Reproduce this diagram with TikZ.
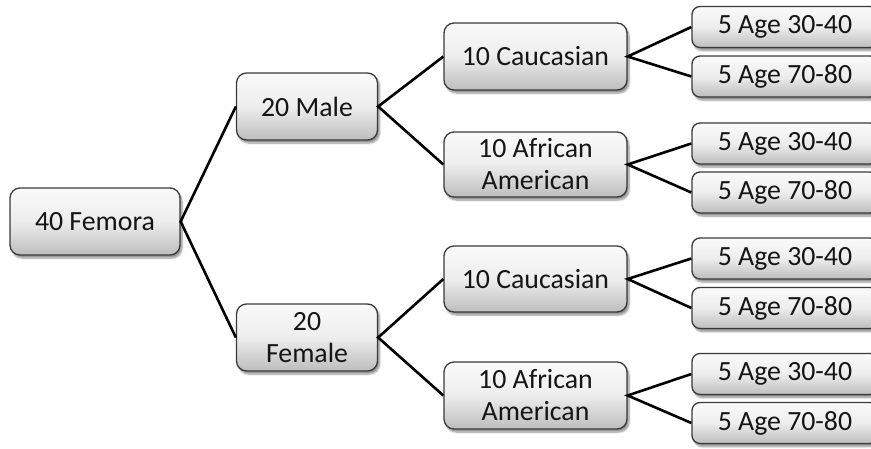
\documentclass[tikz,border=0pt]{standalone}
\usepackage{fontspec}
\setmainfont{Carlito}
\usetikzlibrary{shadows.blur}
\definecolor{boxline}{HTML}{3A3A3A}
\definecolor{boxtop}{HTML}{FAFAFA}
\definecolor{boxbot}{HTML}{BDBDBD}
\definecolor{txt}{HTML}{151515}
\tikzset{
  box/.style={draw=boxline, line width=1.3pt, rounded corners=10pt,
    top color=boxtop, bottom color=boxbot, middle color=black!7,
    text=txt, align=center, inner sep=0pt,
    font=\fontsize{27.8}{32}\selectfont,
    blur shadow={shadow xshift=2pt, shadow yshift=-3pt, shadow blur steps=6, shadow opacity=45}},
  leafbox/.style={box, rounded corners=8pt, minimum width=186pt, minimum height=41pt},
  link/.style={line width=2.6pt, black}
}
\begin{document}
\begin{tikzpicture}[x=1pt,y=-1pt]
\useasboundingbox (0,0) rectangle (871,448);
\clip (0,0) rectangle (871,448);
\node[box, minimum width=170pt, minimum height=67pt] (root) at (95,221.5) {40 Femora};
\node[box, minimum width=141pt, minimum height=67pt] (male) at (307,106.5) {20 Male};
\node[box, minimum width=141pt, minimum height=67pt] (female) at (307,337.5) {20\\Female};
\node[box, minimum width=183pt, minimum height=67pt] (cau1) at (535.5,56.5) {10 Caucasian};
\node[box, minimum width=183pt, minimum height=65pt] (aa1) at (535.5,164.5) {10 African\\American};
\node[box, minimum width=183pt, minimum height=66pt] (cau2) at (535.5,279) {10 Caucasian};
\node[box, minimum width=183pt, minimum height=67pt] (aa2) at (535.5,395.5) {10 African\\American};
\node[leafbox] (l1) at (785,27) {5 Age 30-40};
\node[leafbox] (l2) at (785,76.5) {5 Age 70-80};
\node[leafbox] (l3) at (785,143.5) {5 Age 30-40};
\node[leafbox] (l4) at (785,192.5) {5 Age 70-80};
\node[leafbox] (l5) at (785,258.5) {5 Age 30-40};
\node[leafbox] (l6) at (785,308) {5 Age 70-80};
\node[leafbox] (l7) at (785,374) {5 Age 30-40};
\node[leafbox] (l8) at (785,423) {5 Age 70-80};
\draw[link] (male.west) -- (root.east) -- (female.west);
\draw[link] (cau1.west) -- (male.east) -- (aa1.west);
\draw[link] (cau2.west) -- (female.east) -- (aa2.west);
\draw[link] (l1.west) -- (cau1.east) -- (l2.west);
\draw[link] (l3.west) -- (aa1.east) -- (l4.west);
\draw[link] (l5.west) -- (cau2.east) -- (l6.west);
\draw[link] (l7.west) -- (aa2.east) -- (l8.west);
\end{tikzpicture}
\end{document}
